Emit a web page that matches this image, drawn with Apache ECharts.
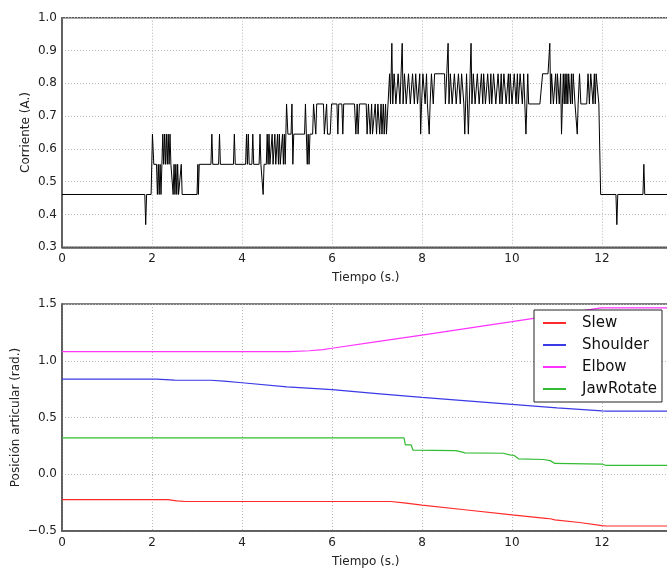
<!DOCTYPE html>
<html><head><meta charset="utf-8">
<script src="https://cdn.jsdelivr.net/npm/echarts@6/dist/echarts.min.js"></script>
<style>html,body{margin:0;padding:0;background:#fff;}#c{width:667px;height:568px;}</style>
</head><body><div id="c"></div>
<script>
// ---- Data ----
const corriente = [
[0,0.461],[1.84,0.461],[1.86,0.369],[1.88,0.461],[1.98,0.461],[2.01,0.645],[2.04,0.553],[2.10,0.553],[2.12,0.461],[2.14,0.553],[2.16,0.461],[2.18,0.553],[2.20,0.461],[2.22,0.553],[2.24,0.645],[2.26,0.553],[2.28,0.645],[2.30,0.553],[2.32,0.645],[2.34,0.553],[2.36,0.645],[2.38,0.553],[2.40,0.645],[2.42,0.553],[2.45,0.553],[2.47,0.461],[2.49,0.553],[2.51,0.461],[2.53,0.553],[2.55,0.461],[2.57,0.553],[2.59,0.461],[2.63,0.461],[2.65,0.553],[2.67,0.461],[3.00,0.461],[3.02,0.553],[3.03,0.461],[3.05,0.553],
[3.31,0.553],[3.33,0.645],[3.35,0.553],[3.48,0.553],[3.50,0.645],[3.52,0.553],[3.81,0.553],[3.83,0.645],[3.85,0.553],[4.08,0.553],[4.10,0.645],[4.12,0.553],[4.14,0.645],[4.16,0.553],[4.22,0.553],[4.24,0.645],[4.26,0.553],[4.38,0.553],[4.40,0.645],[4.42,0.553],[4.45,0.553],[4.47,0.461],[4.49,0.553],[4.54,0.553],[4.56,0.645],[4.58,0.553],[4.60,0.645],[4.62,0.553],[4.65,0.553],[4.67,0.645],[4.69,0.553],[4.71,0.553],[4.73,0.645],[4.75,0.553],[4.77,0.553],[4.79,0.645],[4.81,0.553],[4.83,0.645],[4.85,0.553],[4.88,0.553],[4.90,0.645],[4.92,0.553],[4.94,0.645],[4.96,0.553],[4.99,0.737],[5.02,0.645],
[5.09,0.645],[5.11,0.737],[5.13,0.553],[5.15,0.645],[5.39,0.645],[5.41,0.737],[5.43,0.645],[5.45,0.553],[5.47,0.645],[5.49,0.553],[5.51,0.645],[5.57,0.645],[5.59,0.737],[5.62,0.737],[5.64,0.645],[5.66,0.737],[5.81,0.737],[5.83,0.645],[5.86,0.645],[5.88,0.737],[5.90,0.645],[5.96,0.645],[5.99,0.737],[6.11,0.737],[6.13,0.645],[6.15,0.737],[6.22,0.737],[6.24,0.645],[6.26,0.737],[6.50,0.737],[6.53,0.645],[6.56,0.737],[6.58,0.645],[6.61,0.737],[6.76,0.737],[6.78,0.645],[6.81,0.737],[6.83,0.737],[6.85,0.645],[6.88,0.737],[6.90,0.645],[6.94,0.645],[6.96,0.737],[6.99,0.645],[7.02,0.737],[7.04,0.737],[7.06,0.645],[7.09,0.737],[7.11,0.645],[7.14,0.737],[7.16,0.645],[7.19,0.737],[7.21,0.645],[7.25,0.645],
[7.28,0.829],[7.30,0.737],[7.33,0.922],[7.35,0.737],[7.38,0.829],[7.40,0.829],[7.42,0.737],[7.45,0.737],[7.47,0.829],[7.49,0.829],[7.51,0.737],[7.53,0.737],[7.56,0.922],[7.58,0.737],[7.61,0.829],[7.63,0.829],[7.65,0.737],[7.68,0.737],[7.70,0.829],[7.72,0.829],[7.74,0.737],[7.77,0.737],[7.79,0.829],[7.81,0.829],[7.83,0.737],[7.86,0.829],[7.88,0.829],[7.90,0.737],[7.93,0.737],[7.95,0.829],[7.97,0.645],[7.99,0.737],[8.02,0.829],[8.05,0.829],[8.07,0.737],[8.10,0.829],[8.12,0.737],[8.14,0.737],[8.16,0.645],[8.18,0.737],[8.21,0.829],[8.23,0.829],[8.25,0.737],[8.28,0.829],[8.50,0.829],[8.52,0.737],[8.55,0.829],[8.58,0.922],[8.60,0.737],[8.63,0.829],[8.65,0.829],[8.67,0.737],[8.70,0.737],[8.72,0.829],[8.74,0.829],[8.76,0.737],[8.79,0.737],[8.81,0.829],[8.83,0.829],[8.85,0.737],[8.88,0.829],[8.90,0.829],[8.93,0.737],[8.95,0.645],[8.97,0.737],[8.99,0.829],[9.01,0.737],[9.03,0.645],[9.05,0.737],[9.07,0.829],[9.09,0.922],[9.11,0.737],
[9.14,0.829],[9.16,0.829],[9.18,0.737],[9.21,0.737],[9.23,0.829],[9.25,0.829],[9.27,0.737],[9.30,0.737],[9.32,0.829],[9.35,0.737],[9.37,0.829],[9.39,0.829],[9.41,0.737],[9.44,0.737],[9.46,0.829],[9.48,0.829],[9.50,0.737],[9.53,0.829],[9.55,0.737],[9.57,0.737],[9.59,0.829],[9.62,0.829],[9.64,0.737],[9.67,0.737],[9.69,0.829],[9.71,0.829],[9.73,0.737],[9.76,0.829],[9.78,0.737],[9.80,0.737],[9.82,0.829],[9.85,0.829],[9.87,0.737],[9.90,0.737],[9.92,0.829],[9.94,0.737],[9.96,0.829],[9.98,0.829],[10.00,0.737],[10.03,0.737],[10.05,0.829],[10.07,0.829],[10.09,0.737],[10.12,0.829],[10.14,0.737],[10.16,0.737],[10.18,0.829],[10.21,0.829],[10.23,0.737],[10.26,0.829],[10.28,0.829],[10.31,0.645],[10.33,0.737],[10.35,0.829],[10.37,0.737],[10.62,0.737],[10.68,0.829],[10.80,0.829],[10.84,0.922],[10.86,0.737],[10.88,0.829],[10.90,0.829],[10.92,0.737],[10.95,0.737],[10.97,0.829],[10.99,0.737],[11.01,0.829],[11.03,0.829],[11.05,0.737],[11.08,0.829],[11.10,0.645],[11.12,0.737],[11.14,0.829],[11.16,0.737],[11.18,0.829],[11.20,0.737],[11.22,0.829],[11.24,0.737],[11.26,0.829],[11.28,0.829],[11.30,0.737],[11.32,0.829],[11.34,0.737],[11.36,0.829],[11.38,0.829],[11.40,0.737],[11.43,0.737],[11.45,0.645],[11.47,0.737],[11.50,0.829],[11.53,0.737],[11.66,0.737],[11.69,0.829],[11.72,0.737],[11.75,0.829],[11.77,0.829],[11.80,0.737],[11.83,0.829],[11.85,0.737],[11.87,0.829],[11.91,0.829],[11.93,0.737],[11.97,0.461],[12.31,0.461],[12.33,0.369],[12.35,0.461],[12.91,0.461],[12.93,0.553],[12.95,0.461],[13.5,0.461]
];
const slew = [[0,-0.223],[2.35,-0.223],[2.55,-0.235],[2.75,-0.24],[7.30,-0.24],[7.60,-0.252],[8.00,-0.272],[9.00,-0.315],[10.00,-0.358],[10.75,-0.388],[10.85,-0.392],[10.95,-0.402],[11.50,-0.425],[12.00,-0.452],[12.10,-0.456],[13.5,-0.456]];
const shoulder = [[0,0.838],[2.10,0.838],[2.50,0.83],[3.30,0.828],[3.60,0.82],[4.00,0.806],[5.00,0.77],[6.00,0.745],[7.00,0.711],[8.00,0.677],[9.00,0.646],[10.00,0.615],[11.00,0.585],[12.00,0.558],[12.10,0.556],[13.5,0.556]];
const elbow = [[0,1.08],[5.05,1.08],[5.50,1.088],[5.80,1.098],[6.00,1.11],[7.00,1.168],[8.00,1.226],[9.00,1.285],[10.00,1.344],[11.00,1.405],[11.90,1.462],[12.00,1.466],[13.5,1.466]];
const jawRotate = [[0,0.321],[7.60,0.321],[7.63,0.258],[7.76,0.258],[7.80,0.212],[8.75,0.208],[8.90,0.195],[8.95,0.188],[9.80,0.185],[9.95,0.17],[10.05,0.165],[10.15,0.135],[10.70,0.13],[10.85,0.12],[10.95,0.095],[12.00,0.09],[12.08,0.079],[13.5,0.079]];
const seriesNames = ['Slew','Shoulder','Elbow','JawRotate'];
const seriesColors = ['#ff2a2a','#3a3ae6','#ff33ff','#33bb33'];

const FONT = 'DejaVu Sans';
const axisLineStyle = {color:'#555', width:1.5};
const splitStyle = {color:'#b8b8b8', type:[1,2], width:1};

function xAxis(gi){
  return {gridIndex:gi, type:'value', min:0, max:13.5, interval:2,
    axisLine:{show:true, onZero:false, lineStyle:axisLineStyle}, axisTick:{show:false},
    axisLabel:{margin:6, color:'#222', fontSize:12, fontFamily:FONT,
      formatter:v=>Number.isInteger(v)?String(v):''},
    splitLine:{show:true, lineStyle:splitStyle},
    name:'Tiempo (s.)', nameLocation:'middle', nameGap:25,
    nameTextStyle:{color:'#222', fontSize:12, fontFamily:FONT}};
}

const chart = echarts.init(document.getElementById('c'), null, {renderer:'canvas'});
chart.setOption({
  animation:false,
  backgroundColor:'#fff',
  grid:[
    {left:62, top:17.7, width:607.5, height:229.6, show:true, borderColor:'#555', borderWidth:1.5, containLabel:false, outerBoundsMode:'none'},
    {left:62, top:304, width:607.5, height:227, show:true, borderColor:'#555', borderWidth:1.5, containLabel:false, outerBoundsMode:'none'}
  ],
  xAxis:[xAxis(0), xAxis(1)],
  yAxis:[
    {gridIndex:0, type:'value', min:0.3, max:1.0, interval:0.1,
     axisLine:{show:true, onZero:false, lineStyle:axisLineStyle}, axisTick:{show:false},
     axisLabel:{margin:5, color:'#222', fontSize:12, fontFamily:FONT, formatter:v=>v.toFixed(1)},
     splitLine:{show:true, lineStyle:splitStyle},
     name:'Corriente (A.)', nameLocation:'middle', nameGap:30, nameMoveOverlap:false,
     nameTextStyle:{color:'#222', fontSize:12, fontFamily:FONT}},
    {gridIndex:1, type:'value', min:-0.5, max:1.5, interval:0.5,
     axisLine:{show:true, onZero:false, lineStyle:axisLineStyle}, axisTick:{show:false},
     axisLabel:{margin:5, color:'#222', fontSize:12, fontFamily:FONT,
       formatter:v=>(v<0?'\u2212'+Math.abs(v).toFixed(1):v.toFixed(1))},
     splitLine:{show:true, lineStyle:splitStyle},
     name:'Posición articular (rad.)', nameLocation:'middle', nameGap:40, nameMoveOverlap:false,
     nameTextStyle:{color:'#222', fontSize:12, fontFamily:FONT}}
  ],
  legend:{
    data:seriesNames, orient:'vertical', left:534, top:310,
    icon:'rect', itemWidth:23, itemHeight:2, itemGap:0, padding:[2,5,2,9],
    borderColor:'#222', borderWidth:1, backgroundColor:'#fff',
    textStyle:{fontSize:15, fontFamily:FONT, color:'#111', lineHeight:22, padding:[0,0,0,11]}
  },
  series:[
    {type:'line', xAxisIndex:0, yAxisIndex:0, data:corriente, symbol:'none', showSymbol:false,
     lineStyle:{color:'#000', width:1}, z:3},
    {type:'line', name:seriesNames[0], xAxisIndex:1, yAxisIndex:1, data:slew, symbol:'none', color:seriesColors[0], lineStyle:{color:seriesColors[0], width:1.2}},
    {type:'line', name:seriesNames[1], xAxisIndex:1, yAxisIndex:1, data:shoulder, symbol:'none', color:seriesColors[1], lineStyle:{color:seriesColors[1], width:1.2}},
    {type:'line', name:seriesNames[2], xAxisIndex:1, yAxisIndex:1, data:elbow, symbol:'none', color:seriesColors[2], lineStyle:{color:seriesColors[2], width:1.2}},
    {type:'line', name:seriesNames[3], xAxisIndex:1, yAxisIndex:1, data:jawRotate, symbol:'none', color:seriesColors[3], lineStyle:{color:seriesColors[3], width:1.2}}
  ]
});
</script>
</body></html>
